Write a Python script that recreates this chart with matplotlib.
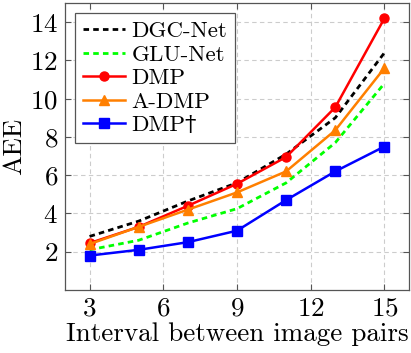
import matplotlib
matplotlib.use("Agg")
import matplotlib.pyplot as plt

plt.rcParams['font.family'] = ['cmr10', 'DejaVu Serif']
plt.rcParams['mathtext.fontset'] = 'cm'
plt.rcParams['axes.formatter.use_mathtext'] = True

intervals = [3, 5, 7, 9, 11, 13, 15]
dgc_net = [2.8, 3.6, 4.65, 5.6, 7.1, 9.0, 12.4]
glu_net = [2.1, 2.6, 3.5, 4.25, 5.6, 7.7, 10.8]
dmp = [2.45, 3.3, 4.4, 5.55, 6.95, 9.55, 14.2]
a_dmp = [2.4, 3.3, 4.2, 5.1, 6.2, 8.35, 11.6]
dmp_dagger = [1.8, 2.1, 2.5, 3.1, 4.7, 6.2, 7.5]

xticks = [3, 6, 9, 12, 15]
yticks = [2, 4, 6, 8, 10, 12, 14]

fig = plt.figure(figsize=(4.11, 3.53), dpi=100)
ax = fig.add_axes([65/411, 1 - 290/353, (409-65)/411, (290-3)/353])

ax.plot(intervals, dgc_net, color='black', linestyle=(0, (2.0, 1.5)), lw=2.0, label='DGC-Net')
ax.plot(intervals, glu_net, color='#00ff00', linestyle=(0, (2.0, 1.5)), lw=2.0, label='GLU-Net')
ax.plot(intervals, dmp, color='red', marker='o', ms=6.5, lw=1.8, label='DMP')
ax.plot(intervals, a_dmp, color='#ff7f00', marker='^', ms=7, lw=1.8, label='A-DMP')
ax.plot(intervals, dmp_dagger, color='blue', marker='s', ms=6.5, lw=1.8, label='DMP†')

ax.set_xlim(2, 16)
ax.set_ylim(0, 15)
ax.set_xticks(xticks)
ax.set_yticks(yticks)
ax.grid(True, color='#cccccc', linestyle=(0, (4, 3)), lw=0.8)
ax.set_axisbelow(True)
for s in ax.spines.values():
    s.set_color('#555555')
    s.set_linewidth(0.9)
ax.tick_params(direction='in', top=True, right=True, labelsize=19.5, color='#555555', length=4, pad=5)
ax.set_xlabel('Interval between image pairs', fontsize=19.5, labelpad=1)
ax.set_ylabel('AEE', fontsize=19.5, labelpad=3)

leg = ax.legend(loc='upper left', fontsize=16.5, frameon=True, fancybox=False,
                edgecolor='#555555', framealpha=1, handlelength=1.8, handletextpad=0.3,
                borderpad=0.35, labelspacing=0.15, borderaxespad=0.45)
leg.get_frame().set_linewidth(0.9)

fig.savefig('out.png', dpi=100)
